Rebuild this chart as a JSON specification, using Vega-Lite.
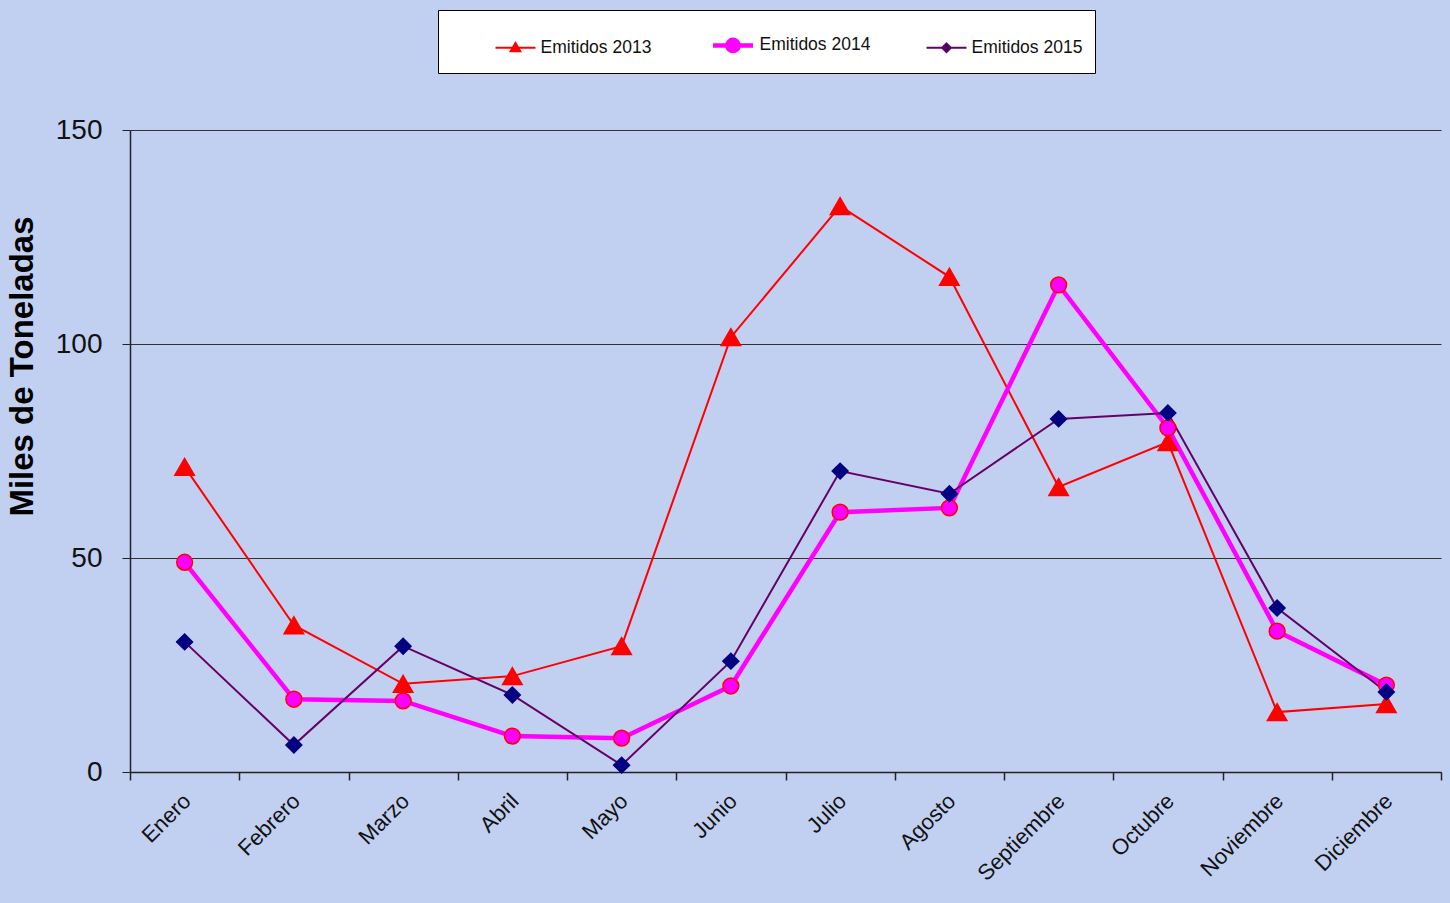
{
  "$schema": "https://vega.github.io/schema/vega-lite/v6.json",
  "width": 1311,
  "height": 642,
  "autosize": "none",
  "padding": {"left": 130, "top": 130, "right": 9, "bottom": 131},
  "background": "#c1cff1",
  "config": {
    "view": {"stroke": null},
    "font": "Liberation Sans"
  },
  "data": {
    "values": [
      {"mes": "Enero", "serie": "Emitidos 2013", "valor": 71.3},
      {"mes": "Febrero", "serie": "Emitidos 2013", "valor": 34.3},
      {"mes": "Marzo", "serie": "Emitidos 2013", "valor": 20.6},
      {"mes": "Abril", "serie": "Emitidos 2013", "valor": 22.4},
      {"mes": "Mayo", "serie": "Emitidos 2013", "valor": 29.4},
      {"mes": "Junio", "serie": "Emitidos 2013", "valor": 101.6},
      {"mes": "Julio", "serie": "Emitidos 2013", "valor": 132.2},
      {"mes": "Agosto", "serie": "Emitidos 2013", "valor": 115.7},
      {"mes": "Septiembre", "serie": "Emitidos 2013", "valor": 66.6},
      {"mes": "Octubre", "serie": "Emitidos 2013", "valor": 77.1},
      {"mes": "Noviembre", "serie": "Emitidos 2013", "valor": 14.0},
      {"mes": "Diciembre", "serie": "Emitidos 2013", "valor": 15.9},
      {"mes": "Enero", "serie": "Emitidos 2014", "valor": 49.0},
      {"mes": "Febrero", "serie": "Emitidos 2014", "valor": 17.0},
      {"mes": "Marzo", "serie": "Emitidos 2014", "valor": 16.6},
      {"mes": "Abril", "serie": "Emitidos 2014", "valor": 8.4},
      {"mes": "Mayo", "serie": "Emitidos 2014", "valor": 7.9},
      {"mes": "Junio", "serie": "Emitidos 2014", "valor": 20.1},
      {"mes": "Julio", "serie": "Emitidos 2014", "valor": 60.7},
      {"mes": "Agosto", "serie": "Emitidos 2014", "valor": 61.7},
      {"mes": "Septiembre", "serie": "Emitidos 2014", "valor": 113.8},
      {"mes": "Octubre", "serie": "Emitidos 2014", "valor": 80.4},
      {"mes": "Noviembre", "serie": "Emitidos 2014", "valor": 32.9},
      {"mes": "Diciembre", "serie": "Emitidos 2014", "valor": 20.3},
      {"mes": "Enero", "serie": "Emitidos 2015", "valor": 30.4},
      {"mes": "Febrero", "serie": "Emitidos 2015", "valor": 6.3},
      {"mes": "Marzo", "serie": "Emitidos 2015", "valor": 29.4},
      {"mes": "Abril", "serie": "Emitidos 2015", "valor": 18.0},
      {"mes": "Mayo", "serie": "Emitidos 2015", "valor": 1.6},
      {"mes": "Junio", "serie": "Emitidos 2015", "valor": 25.9},
      {"mes": "Julio", "serie": "Emitidos 2015", "valor": 70.3},
      {"mes": "Agosto", "serie": "Emitidos 2015", "valor": 65.0},
      {"mes": "Septiembre", "serie": "Emitidos 2015", "valor": 82.5},
      {"mes": "Octubre", "serie": "Emitidos 2015", "valor": 83.9},
      {"mes": "Noviembre", "serie": "Emitidos 2015", "valor": 38.3},
      {"mes": "Diciembre", "serie": "Emitidos 2015", "valor": 18.7}
    ]
  },
  "encoding": {
    "x": {
      "field": "mes",
      "type": "nominal",
      "sort": null,
      "scale": {"type": "band", "paddingInner": 0, "paddingOuter": 0},
      "axis": {
        "title": null,
        "tickBand": "extent",
        "domainColor": "#222222",
        "domainWidth": 1.5,
        "tickColor": "#222222",
        "tickWidth": 1.5,
        "tickSize": 8,
        "labelAngle": -45,
        "labelAlign": "right",
        "labelBaseline": "top",
        "labelPadding": 10,
        "labelOffset": -5,
        "labelFontSize": 22,
        "labelColor": "#111111",
        "labelFont": "Liberation Sans"
      }
    },
    "y": {
      "field": "valor",
      "type": "quantitative",
      "scale": {"domain": [0, 150], "nice": false},
      "axis": {
        "title": "Miles de Toneladas",
        "values": [0, 50, 100, 150],
        "grid": true,
        "gridColor": "#333333",
        "gridWidth": 1,
        "domainColor": "#222222",
        "domainWidth": 1.5,
        "tickColor": "#222222",
        "tickSize": 8,
        "labelPadding": 20,
        "labelFontSize": 28,
        "labelColor": "#111111",
        "labelFont": "Liberation Sans",
        "titleFont": "Liberation Sans",
        "titleFontSize": 33,
        "titleFontWeight": "bold",
        "titleColor": "#000000",
        "titleAngle": -90,
        "titleX": -108,
        "titleY": 236,
        "titleAlign": "center",
        "titleBaseline": "middle"
      }
    }
  },
  "layer": [
    {
      "mark": {"type": "line"},
      "encoding": {
        "color": {
          "field": "serie",
          "type": "nominal",
          "scale": {
            "range": ["#ff0000", "#ff00ff", "#660066"]
          },
          "legend": {
            "title": "\u00a0",
            "titleOrient": "left",
            "titleFontSize": 4,
            "titlePadding": 44,
            "orient": "none",
            "legendX": 308,
            "legendY": -120,
            "direction": "horizontal",
            "padding": 12.5,
            "columnPadding": 52,
            "fillColor": "#ffffff",
            "strokeColor": "#000000",
            "labelFontSize": 17.5,
            "labelFont": "Liberation Sans",
            "labelColor": "#111111",
            "labelOffset": 4,
            "symbolSize": 1600,
            "symbolType": {"expr": "datum.value == 'Emitidos 2013' ? 'M-1,0L1,0M0,-0.24L0.24,0.18L-0.24,0.18Z' : datum.value == 'Emitidos 2014' ? 'M-1,0L1,0M0.28,0A0.28,0.28,0,1,1,-0.28,0A0.28,0.28,0,1,1,0.28,0Z' : 'M-1,0L1,0M0,-0.22L0.22,0L0,0.22L-0.22,0Z'"},
            "symbolFillColor": {"expr": "datum.value == 'Emitidos 2013' ? '#ff0000' : datum.value == 'Emitidos 2014' ? '#ff00ff' : '#000080'"},
            "symbolStrokeWidth": {"expr": "datum.value == 'Emitidos 2014' ? 4 : 2"},
            "symbolOpacity": 1
          }
        },
        "strokeWidth": {
          "field": "serie",
          "type": "nominal",
          "scale": {
            "type": "ordinal",
            "range": [2, 4.5, 2]
          },
          "legend": null
        }
      }
    },
    {
      "mark": {"type": "point", "filled": true, "opacity": 1, "strokeWidth": 1.5},
      "encoding": {
        "shape": {
          "field": "serie",
          "type": "nominal",
          "scale": {
            "domain": ["Emitidos 2013", "Emitidos 2014", "Emitidos 2015"],
            "range": ["triangle-up", "circle", "diamond"]
          },
          "legend": null
        },
        "fill": {
          "field": "serie",
          "type": "nominal",
          "scale": {
            "domain": ["Emitidos 2013", "Emitidos 2014", "Emitidos 2015"],
            "range": ["#ff0000", "#ff00ff", "#000080"]
          },
          "legend": null
        },
        "stroke": {
          "field": "serie",
          "type": "nominal",
          "scale": {
            "domain": ["Emitidos 2013", "Emitidos 2014", "Emitidos 2015"],
            "range": ["#ff0000", "#ff0000", "#000080"]
          },
          "legend": null
        },
        "size": {
          "field": "serie",
          "type": "nominal",
          "scale": {
            "type": "ordinal",
            "domain": ["Emitidos 2013", "Emitidos 2014", "Emitidos 2015"],
            "range": [380, 250, 250]
          },
          "legend": null
        }
      }
    }
  ]
}
